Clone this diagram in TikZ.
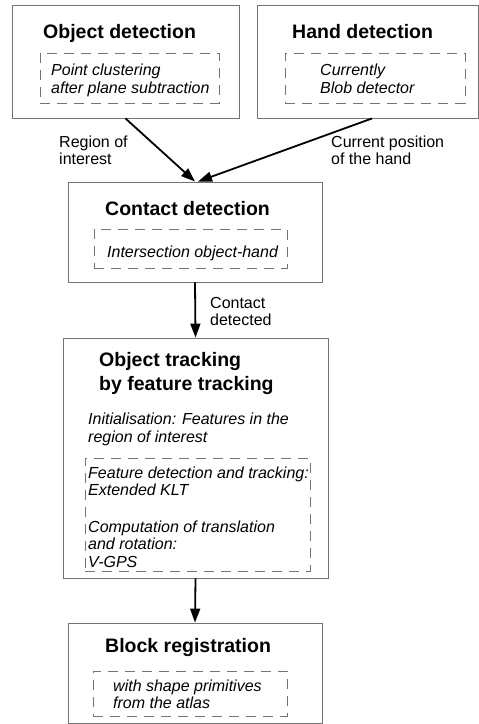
\documentclass[tikz,border=0pt]{standalone}
\usepackage{fontspec}
\setmainfont{Liberation Sans}
\usetikzlibrary{arrows.meta}

\begin{document}
\begin{tikzpicture}[x=1pt,y=-1pt,
    stage/.style={draw=black!55, line width=0.9pt, inner sep=0},
    method/.style={draw=black!55, line width=0.9pt, dash pattern=on 10pt off 7pt, inner sep=0},
    heading/.style={inner sep=0, anchor=base west, font=\bfseries\fontsize{19.5}{23}\selectfont},
    remark/.style={inner sep=0, anchor=base west, align=left, font=\itshape\fontsize{16}{18}\selectfont},
    flowlabel/.style={inner sep=0, anchor=base west, align=left, font=\fontsize{16}{17}\selectfont},
    flow/.style={line width=1.8pt, -{Triangle[length=14pt,width=10pt]}}]
      \useasboundingbox (0,0) rectangle (479,724);

      % object detection
      \node [stage, minimum width=227pt, minimum height=113pt] (objdet) at (125.5,61.5) {};
      \node [heading] (objdet-title) at (43,38) {Object detection};
      \node [method, minimum width=179pt, minimum height=50pt] (objdet-box) at (129.5,78) {};
      \node [remark] (objdet-text) at (51,93) {Point clustering\\after plane subtraction};

      % hand detection
      \node [stage, minimum width=221pt, minimum height=113pt] (handdet) at (367.5,61.5) {};
      \node [heading] (handdet-title) at (292,38) {Hand detection};
      \node [method, minimum width=180pt, minimum height=50pt] (handdet-box) at (375,78) {};
      \node [remark] (handdet-text) at (320,93) {Currently\\Blob detector};

      % contact detection
      \node [stage, minimum width=254pt, minimum height=100pt] (contact) at (195,232) {};
      \node [heading] (contact-title) at (105,215) {Contact detection};
      \node [method, minimum width=193pt, minimum height=39pt] (contact-box) at (190.5,248.5) {};
      \node [remark] (contact-text) at (107,257) {Intersection object-hand};

      % object tracking (base anchor sits on the last line)
      \node [stage, minimum width=265pt, minimum height=240pt] (tracking) at (195.5,458) {};
      \node [heading, align=left, font=\bfseries\fontsize{19.5}{23.5}\selectfont] (tracking-title) at (99,390) {Object tracking\\by feature tracking};
      \node [remark] (tracking-init) at (88,442) {Initialisation: Features in the\\region of interest};
      \node [method, minimum width=225pt, minimum height=113pt] (tracking-box) at (197.5,514.5) {};
      \node [remark, font=\itshape\fontsize{16}{17.5}\selectfont] (tracking-text) at (88,567) {Feature detection and tracking:\\Extended KLT\\[19pt]Computation of translation\\and rotation:\\V-GPS};

      % block registration
      \node [stage, minimum width=254pt, minimum height=100pt] (block) at (195,673) {};
      \node [heading] (block-title) at (105,652) {Block registration};
      \node [method, minimum width=194pt, minimum height=45pt] (block-box) at (190,693.5) {};
      \node [remark, font=\itshape\fontsize{16}{16.5}\selectfont] (block-text) at (113,708) {with shape primitives\\from the atlas};

      % connectors
      \draw [flow] (objdet.south) -- (contact.north);
      \draw [flow] ([xshift=4.5pt]handdet.south) -- ([xshift=3pt]contact.north);
      \draw [flow] (contact.south) -- (tracking.north);
      \draw [flow] (tracking.south) -- (block.north);

      \node [flowlabel] (roi-label) at (59,164) {Region of\\interest};
      \node [flowlabel] (hand-label) at (331,164) {Current position\\of the hand};
      \node [flowlabel] (contact-label) at (210,325) {Contact\\detected};
\end{tikzpicture}
\end{document}
